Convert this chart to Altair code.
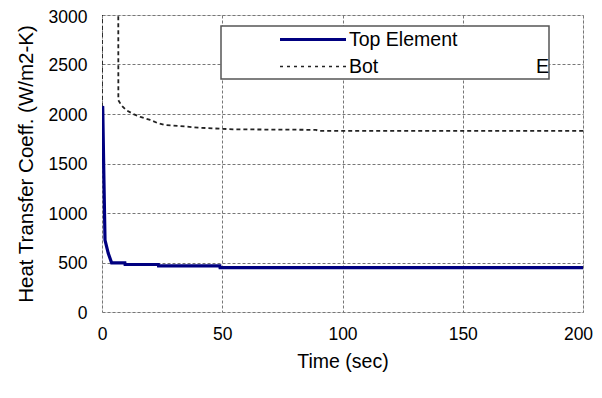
import altair as alt
import pandas as pd

# Top Element series
top_t = [0, 0.3, 0.8, 1.25, 2.6, 4, 9.5, 9.6, 23.4, 23.5, 49, 49.1, 200]
top_v = [2070, 2067, 1333, 727, 593, 497, 497, 480, 480, 465, 465, 448, 448]

# Bottom Element series
bot_t = [0, 0.05, 6.6, 6.8, 8, 10, 13, 16, 20, 23, 26, 31.6, 40, 54.5, 89, 90, 200]
bot_v = [2070, 8000, 8000, 2140, 2090, 2040, 2000, 1970, 1940, 1910, 1890, 1880, 1862, 1845, 1840, 1830, 1830]

x_ticks = [0, 50, 100, 150, 200]
y_ticks = [0, 500, 1000, 1500, 2000, 2500, 3000]

legend_labels = ["Top Element", "Bot", "E"]

top_df = pd.DataFrame({"t": top_t, "v": top_v})
bot_df = pd.DataFrame({"t": bot_t, "v": bot_v})

FONT = "Liberation Sans"

x_enc = alt.X("t:Q", scale=alt.Scale(domain=[0, 200], nice=False),
              axis=alt.Axis(values=x_ticks, title="Time (sec)", grid=True, format="d",
                            gridDash=[3, 2], gridColor="#777", gridWidth=1,
                            domain=False, ticks=False, labelPadding=13, labelFlush=False,
                            labelOffset=alt.expr("datum.value == 200 ? -5 : 0"),
                            labelFontSize=17.5, titleFontSize=19.5, titlePadding=10,
                            labelFont=FONT, titleFont=FONT, labelColor="#000",
                            titleColor="#000", titleFontWeight="normal"))
y_enc = alt.Y("v:Q", scale=alt.Scale(domain=[0, 3000], nice=False),
              axis=alt.Axis(values=y_ticks, title="Heat Transfer Coeff. (W/m2-K)", format="d",
                            grid=True, gridDash=[3, 2], gridColor="#777", gridWidth=1,
                            domain=False, ticks=False, labelPadding=15, labelFlush=False,
                            labelOffset=alt.expr("datum.value == 3000 ? 2.5 : 1"),
                            labelFontSize=17.5, titleFontSize=20.5, titlePadding=12,
                            labelFont=FONT, titleFont=FONT, labelColor="#000",
                            titleColor="#000", titleFontWeight="normal"))

bot_line = alt.Chart(bot_df).mark_line(
    color="#222", strokeWidth=1.8, strokeDash=[4, 3], clip=True
).encode(x=x_enc, y=y_enc, order="t:Q")

top_line = alt.Chart(top_df).mark_line(
    color="#000080", strokeWidth=3.2, clip=True
).encode(x="t:Q", y="v:Q", order="t:Q")

leg_df = pd.DataFrame({"k": [0]})
box = alt.Chart(leg_df).mark_rect(fill="white", stroke="#555", strokeWidth=1.5).encode(
    x=alt.value(119), x2=alt.value(447), y=alt.value(11), y2=alt.value(64))
sw_top = alt.Chart(leg_df).mark_rule(color="#000080", strokeWidth=3).encode(
    x=alt.value(178), x2=alt.value(244), y=alt.value(24.5))
sw_bot = alt.Chart(leg_df).mark_rule(color="#222", strokeWidth=1.3, strokeDash=[3, 4]).encode(
    x=alt.value(178), x2=alt.value(246), y=alt.value(51.5))
txt_top = alt.Chart(leg_df).mark_text(align="left", baseline="middle", fontSize=19.5, font=FONT, color="#000").encode(
    x=alt.value(247), y=alt.value(25), text=alt.value(legend_labels[0]))
txt_bot = alt.Chart(leg_df).mark_text(align="left", baseline="middle", fontSize=19.5, font=FONT, color="#000").encode(
    x=alt.value(247), y=alt.value(52), text=alt.value(legend_labels[1]))
txt_e = alt.Chart(leg_df).mark_text(align="left", baseline="middle", fontSize=19.5, font=FONT, color="#000").encode(
    x=alt.value(434), y=alt.value(52), text=alt.value(legend_labels[2]))

chart = alt.layer(bot_line, top_line, box, sw_top, sw_bot, txt_top, txt_bot, txt_e).properties(
    width=481, height=297,
    autosize=alt.AutoSizeParams(type="none"),
    padding={"left": 94, "top": 7, "right": 10, "bottom": 66},
).configure_view(stroke="#000", strokeWidth=1.5).configure(background="white")

chart.save("out.html", embed_options={"renderer": "svg", "actions": False})
